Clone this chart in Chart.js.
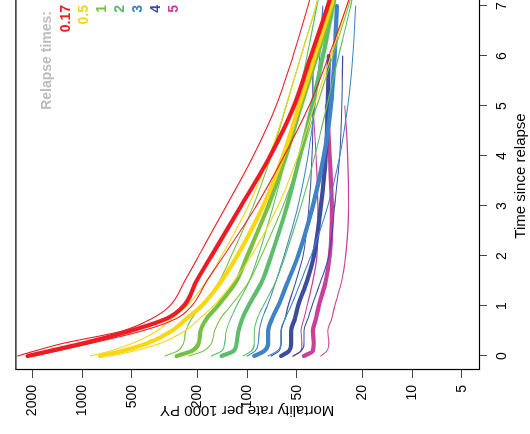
<!DOCTYPE html>
<html>
<head>
<meta charset="utf-8">
<script src="https://cdn.jsdelivr.net/npm/chart.js@4/dist/chart.umd.min.js"></script>
<style>
  html, body { margin: 0; padding: 0; background: #fff; overflow: hidden; }
  /* the plot is laid out upright, then turned a quarter turn counter-clockwise */
  #view {
    position: absolute; left: 0; top: 0;
    width: 434px; height: 530px; overflow: hidden;
    transform-origin: 0 0;
    transform: translate(0, 434px) rotate(-90deg);
  }
  canvas { display: block; }
</style>
</head>
<body>
<div id="view"><canvas id="c" width="470" height="530" style="width:470px;height:530px"></canvas></div>
<script>
// time since relapse (years) at which each curve is evaluated
const followUp = [0, 0.1, 0.25, 0.5, 0.75, 1, 1.5, 2, 3, 4, 5, 6, 7, 7.6];

// mortality rate per 1000 PY: estimate (mid) with upper / lower bounds, by relapse time
const mid_017   = [2144, 1580, 1000, 514, 307, 243, 203, 165, 109, 72.6, 52.0, 41.1, 32.5, 28.6];
const upper_017 = [2462, 1945, 1319, 574, 378, 295, 239, 197, 134, 91.9, 66.8, 52.7, 42.8, 38.3];
const lower_017 = [1945, 1414, 894, 435, 268, 217, 176, 139, 88.1, 59.8, 42.2, 32.0, 24.9, 21.7];

const mid_05   = [779, 574, 406, 287, 233, 189, 143, 115, 80.0, 60.6, 48.5, 38.9, 31.1, 28.3];
const upper_05 = [894, 678, 499, 353, 287, 233, 176, 143, 98.5, 73.6, 58.1, 47.2, 38.3, 34.3];
const lower_05 = [678, 486, 339, 239, 194, 160, 120, 94.5, 65.0, 49.2, 39.4, 31.1, 24.9, 22.0];

const mid_1   = [268, 217, 197, 192, 176, 151, 116, 100, 74.6, 58.1, 47.2, 37.8, 30.3, 27.9];
const upper_1 = [316, 264, 243, 236, 217, 189, 147, 125, 91.9, 71.6, 58.1, 47.2, 38.3, 34.8];
const lower_1 = [226, 184, 165, 158, 145, 126, 97.1, 82.2, 60.6, 47.2, 37.8, 30.3, 24.3, 21.7];

const mid_2   = [143, 121, 116, 113, 107, 98.5, 81.1, 71.6, 57.3, 47.9, 40.5, 34.8, 30.3, 28.3];
const upper_2 = [165, 143, 137, 134, 126, 116, 97.1, 85.7, 69.6, 58.1, 49.9, 43.4, 37.8, 35.3];
const lower_2 = [106, 94.5, 90.6, 90.6, 86.9, 80.0, 66.8, 58.9, 47.2, 38.9, 32.9, 27.9, 23.6, 21.7];

const mid_3   = [90.6, 78.9, 74.6, 74.6, 70.6, 65.0, 56.5, 49.2, 40.0, 34.3, 31.1, 29.5, 28.6];
const upper_3 = [100, 89.4, 85.7, 84.6, 81.1, 75.7, 66.8, 59.8, 49.2, 42.8, 38.9, 36.3, 34.8];
const lower_3 = [74.6, 65.9, 62.3, 62.3, 58.9, 54.2, 47.2, 41.1, 32.5, 27.5, 24.6, 22.9, 22.0];

const mid_4   = [62.3, 55.8, 54.2, 54.2, 51.3, 49.2, 43.4, 39.4, 35.8, 33.4, 32.5, 32.0];
const upper_4 = [71.6, 64.1, 62.3, 62.3, 58.9, 56.5, 50.6, 45.9, 42.2, 40.5, 40.0, 40.0];
const lower_4 = [52.7, 47.2, 45.3, 45.3, 42.8, 40.5, 35.8, 32.0, 29.5, 27.5, 26.7, 26.4];

const mid_5   = [45.3, 40.0, 39.5, 40.0, 38.3, 36.8, 33.4, 31.6, 30.7, 31.6, 32.9];
const upper_5 = [52.7, 47.2, 46.6, 47.2, 45.3, 43.4, 40.0, 37.8, 37.3, 38.3, 40.0];
const lower_5 = [35.8, 32.9, 32.0, 32.5, 30.7, 29.5, 26.7, 25.3, 24.3, 24.6, 25.6];

const relapseTimes = ['0.17', '0.5', '1', '2', '3', '4', '5'];
const timeTicks = [0, 1, 2, 3, 4, 5, 6, 7];
const rateTicks = [5, 10, 20, 50, 100, 200, 500, 1000, 2000];

const groupColors = ['#ec1c24', '#f9d714', '#78c043', '#5cbd6c', '#3d83c6', '#3e4c9e', '#c8409a'];
const groups = [
  [mid_017, upper_017, lower_017],
  [mid_05, upper_05, lower_05],
  [mid_1, upper_1, lower_1],
  [mid_2, upper_2, lower_2],
  [mid_3, upper_3, lower_3],
  [mid_4, upper_4, lower_4],
  [mid_5, upper_5, lower_5]
];

const toPoints = vals => vals.map((v, i) => ({ x: followUp[i], y: v }));

const datasets = [];
groups.forEach(([mid, upper, lower], g) => {
  const line = (vals, w) => ({
    data: toPoints(vals),
    borderColor: groupColors[g],
    borderWidth: w,
    pointRadius: 0,
    fill: false,
    cubicInterpolationMode: 'monotone',
    borderCapStyle: 'round',
    borderJoinStyle: 'round'
  });
  datasets.push(line(upper, 1.1), line(lower, 1.1), line(mid, 4.2));
});

const font = { family: '"Liberation Sans", Arial, Helvetica, sans-serif' };

// frame around the plotting region plus the relapse-time key
const framePlugin = {
  id: 'frame',
  afterDraw(chart) {
    const { ctx, chartArea: a } = chart;
    ctx.save();
    ctx.strokeStyle = '#000';
    ctx.lineWidth = 1.2;
    ctx.strokeRect(a.left + 0.5, a.top + 0.5, a.right - a.left, a.bottom - a.top);

    ctx.font = 'bold 14px ' + font.family;
    ctx.textAlign = 'right';
    ctx.textBaseline = 'middle';
    const right = a.left + 365;
    ctx.fillStyle = '#bdbdbd';
    ctx.fillText('Relapse times:', right - 6, a.top + 32);
    relapseTimes.forEach((lab, i) => {
      ctx.fillStyle = groupColors[i];
      ctx.fillText(lab, right, a.top + 50.6 + i * 18);
    });
    ctx.restore();
  }
};

new Chart(document.getElementById('c'), {
  type: 'line',
  data: { datasets },
  plugins: [framePlugin],
  options: {
    responsive: false,
    animation: false,
    devicePixelRatio: 1,
    layout: { padding: { left: 0, top: 12, right: 18, bottom: 0 } },
    plugins: { legend: { display: false }, tooltip: { enabled: false } },
    scales: {
      x: {
        type: 'linear',
        position: 'bottom',
        min: -0.28,
        max: 7.48,
        afterBuildTicks: s => { s.ticks = timeTicks.map(v => ({ value: v })); },
        afterFit: s => { s.height = 51; },
        grid: { drawOnChartArea: false, tickLength: 8, color: '#444', lineWidth: 1 },
        border: { display: false },
        ticks: { color: '#000', padding: 7, maxRotation: 0, autoSkip: false, font: { ...font, size: 14 } },
        title: { display: true, text: 'Time since relapse', color: '#000', font: { ...font, size: 15 }, padding: { top: 0, bottom: 0 } }
      },
      y: {
        type: 'logarithmic',
        position: 'left',
        min: 3.934,
        max: 2541.8,
        afterBuildTicks: s => { s.ticks = rateTicks.map(v => ({ value: v })); },
        afterFit: s => { s.width = 64; },
        grid: { drawOnChartArea: false, tickLength: 8, color: '#444', lineWidth: 1 },
        border: { display: false },
        ticks: { color: '#000', padding: 7, autoSkip: false, font: { ...font, size: 14 }, callback: v => String(v) },
        title: { display: true, text: 'Mortality rate per 1000 PY', color: '#000', font: { ...font, size: 15 }, padding: { top: 15, bottom: 0 } }
      }
    }
  }
});
</script>
</body>
</html>
